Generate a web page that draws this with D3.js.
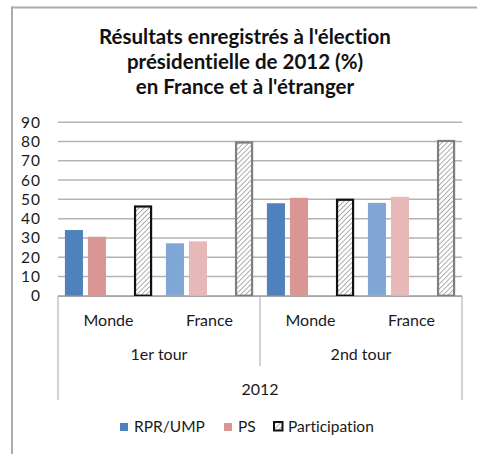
<!DOCTYPE html>
<html>
<head>
<meta charset="utf-8">
<script src="https://cdn.jsdelivr.net/npm/d3@7"></script>
<style>
  html, body { margin: 0; padding: 0; background: #fff; }
  svg { display: block; }
  text { font-family: Lato, "Open Sans", sans-serif; fill: #1a1a1a; font-variant-ligatures: none; font-feature-settings: "liga" 0, "clig" 0; }
</style>
</head>
<body>
<svg id="chart" width="477" height="454"></svg>
<script>
// ---- Data ----
const places = ["Monde", "France", "Monde", "France"];
const tours = ["1er tour", "2nd tour"];
const yearLabel = "2012";
const seriesNames = ["RPR/UMP", "PS", "Participation"];
const rprUmp = [34.1, 27.2, 48.0, 48.2];
const ps = [30.6, 28.2, 50.8, 51.3];
const participation = [46.3, 79.5, 49.8, 80.3];
const yTicks = [0, 10, 20, 30, 40, 50, 60, 70, 80, 90];
const titleLines = ["Résultats enregistrés à l'élection", "présidentielle de 2012 (%)", "en France et à l'étranger"];

// ---- Layout ----
const svg = d3.select("#chart");
const plot = { left: 58, right: 462, top: 122.3, bottom: 295.7 };

// frame
svg.append("line").attr("x1", 11).attr("x2", 477).attr("y1", 7.5).attr("y2", 7.5)
  .attr("stroke", "#ABABAB").attr("stroke-width", 2);
svg.append("line").attr("x1", 12).attr("x2", 12).attr("y1", 6.5).attr("y2", 454)
  .attr("stroke", "#ABABAB").attr("stroke-width", 2);

// pattern
const defs = svg.append("defs");
const pat = defs.append("pattern").attr("id", "hatch").attr("patternUnits", "userSpaceOnUse")
  .attr("width", 3.5).attr("height", 3.5).attr("patternTransform", "rotate(45)");
pat.append("rect").attr("width", 3.5).attr("height", 3.5).attr("fill", "#fff");
pat.append("line").attr("x1", 0).attr("x2", 0).attr("y1", 0).attr("y2", 3.5)
  .attr("stroke", "#8C8C8C").attr("stroke-width", 1.4);

// title
svg.append("g").selectAll("text").data(titleLines).join("text")
  .attr("x", 245).attr("y", (d, i) => 44 + i * 25)
  .attr("text-anchor", "middle").attr("font-weight", "bold").attr("font-size", 20.5)
  .style("fill", "#111")
  .text(d => d);

// scales
const x = d3.scaleBand().domain(d3.range(places.length)).range([plot.left, plot.right]).padding(0);
const slot = d3.scaleBand().domain(["RPR/UMP", "PS", "_", "Participation"])
  .range([0, x.bandwidth()]).paddingInner(0.217).paddingOuter(0.3);
const y = d3.scaleLinear().domain([0, 90]).range([plot.bottom, plot.top]);

// gridlines
svg.append("g").selectAll("line").data(yTicks).join("line")
  .attr("x1", plot.left).attr("x2", plot.right)
  .attr("y1", d => y(d)).attr("y2", d => y(d))
  .attr("stroke", "#B3B3B3").attr("stroke-width", 1.5);

// y axis labels
const yAxis = d3.axisLeft(y).tickValues(yTicks).tickSize(0).tickPadding(17);
const yg = svg.append("g").attr("transform", `translate(${plot.left},0)`).call(yAxis);
yg.select(".domain").remove();
yg.selectAll("text").attr("font-size", 15.5).attr("font-family", "Lato, sans-serif")
  .attr("letter-spacing", 1).attr("fill", "#1a1a1a");

// bars
const blueDark = "#4F81BD", blueLight = "#7FA6D5";
const pinkDark = "#D99694", pinkLight = "#E6B9B8";
const bars = svg.append("g");
places.forEach((p, i) => {
  const monde = p === "Monde";
  const x0 = x(i);
  bars.append("rect").attr("x", x0 + slot("RPR/UMP")).attr("width", slot.bandwidth())
    .attr("y", y(rprUmp[i])).attr("height", y(0) - y(rprUmp[i]))
    .attr("fill", monde ? blueDark : blueLight);
  bars.append("rect").attr("x", x0 + slot("PS")).attr("width", slot.bandwidth())
    .attr("y", y(ps[i])).attr("height", y(0) - y(ps[i]))
    .attr("fill", monde ? pinkDark : pinkLight);
  bars.append("rect").attr("x", x0 + slot("Participation") + 1).attr("width", slot.bandwidth() - 2)
    .attr("y", y(participation[i])).attr("height", y(0) - y(participation[i]))
    .attr("fill", "url(#hatch)")
    .attr("stroke", monde ? "#111" : "#7F7F7F").attr("stroke-width", 2.2);
});

// category axis
const axisColor = "#A6A6A6";
const cat = svg.append("g");
cat.append("line").attr("x1", plot.left).attr("x2", plot.right).attr("y1", 296.5).attr("y2", 296.5)
  .attr("stroke", axisColor).attr("stroke-width", 1);
[plot.left, plot.right].forEach(xx => {
  cat.append("line").attr("x1", xx).attr("x2", xx).attr("y1", 296).attr("y2", 400)
    .attr("stroke", axisColor).attr("stroke-width", 1);
});
cat.append("line").attr("x1", x(2)).attr("x2", x(2)).attr("y1", 296).attr("y2", 366)
  .attr("stroke", axisColor).attr("stroke-width", 1);
cat.selectAll("text.place").data(places).join("text").attr("class", "place")
  .attr("x", (d, i) => x(i) + x.bandwidth() / 2).attr("y", 326)
  .attr("text-anchor", "middle").attr("font-size", 16).text(d => d);
cat.selectAll("text.tour").data(tours).join("text").attr("class", "tour")
  .attr("x", (d, i) => x(i * 2) + x.bandwidth()).attr("y", 360)
  .attr("text-anchor", "middle").attr("font-size", 16).text(d => d);
cat.append("text").attr("x", (plot.left + plot.right) / 2).attr("y", 395)
  .attr("text-anchor", "middle").attr("font-size", 16).text(yearLabel);

// legend
const legend = svg.append("g");
const legendX = [120, 224, 273];
seriesNames.forEach((name, i) => {
  const lx = legendX[i];
  if (i < 2) {
    legend.append("rect").attr("x", lx).attr("y", 423).attr("width", 8).attr("height", 8)
      .attr("fill", i === 0 ? blueDark : pinkDark);
  } else {
    legend.append("rect").attr("x", lx + 1).attr("y", 422).attr("width", 8.5).attr("height", 8.5)
      .attr("fill", "url(#hatch)").attr("stroke", "#111").attr("stroke-width", 2);
  }
  legend.append("text").attr("x", lx + (i < 2 ? 14 : 15)).attr("y", 432)
    .attr("font-size", 15.5).text(name);
});
</script>
</body>
</html>
